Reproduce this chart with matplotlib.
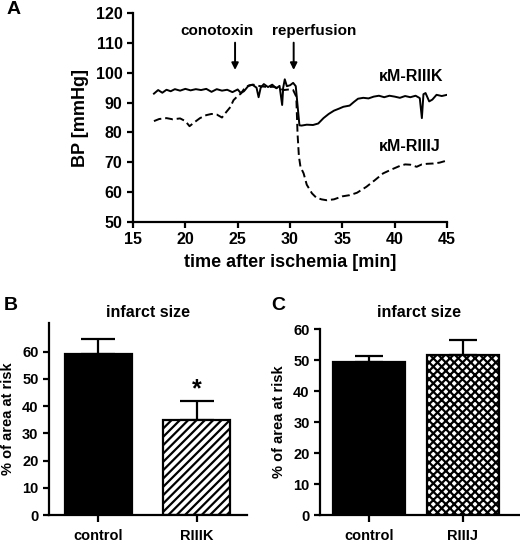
import matplotlib
matplotlib.use("Agg")
import matplotlib.pyplot as plt

plt.rcParams['font.family'] = ['Liberation Sans', 'DejaVu Sans']
plt.rcParams['font.weight'] = 'bold'
plt.rcParams['axes.labelweight'] = 'bold'
plt.rcParams['hatch.linewidth'] = 1.6

# panel A: blood pressure traces (min, mmHg)
t_riiik = [17.0, 17.4, 17.8, 18.2, 18.6, 19.0, 19.5, 20.0, 20.5, 21.0, 21.5, 22.0, 22.5,
           23.0, 23.5, 24.0, 24.5, 25.0, 25.3, 25.6, 26.0, 26.4, 26.8, 27.0, 27.2, 27.5,
           27.9, 28.3, 28.7, 29.0, 29.25, 29.35, 29.5, 29.7, 30.0, 30.3, 30.55, 30.75,
           30.9, 31.1, 31.6, 32.2, 32.7, 33.2, 33.7, 34.2, 34.7, 35.1, 35.7, 36.1, 36.5,
           37.0, 37.5, 38.0, 38.5, 39.0, 39.5, 40.0, 40.5, 41.0, 41.5, 42.0, 42.4, 42.6,
           42.75, 42.95, 43.3, 43.6, 44.0, 44.5, 45.0]
bp_riiik = [93.0, 94.2, 93.3, 94.3, 93.8, 94.5, 94.0, 94.6, 94.1, 94.5, 94.2, 94.6, 93.6,
            94.5, 94.0, 94.3, 93.5, 94.4, 93.2, 93.8, 95.5, 96.0, 95.0, 91.8, 95.0, 96.2,
            95.2, 96.0, 94.8, 95.6, 89.2, 95.0, 97.8, 95.5, 95.8, 96.6, 95.5, 88.0, 82.4,
            82.3, 82.6, 82.5, 83.0, 84.8, 86.2, 87.3, 88.0, 88.6, 89.0, 90.2, 91.3, 91.6,
            91.4, 92.0, 92.3, 91.8, 92.3, 92.0, 91.6, 92.2, 91.8, 92.3, 91.5, 84.8,
            92.8, 93.2, 90.4, 91.0, 92.6, 92.2, 92.6]

t_riiij = [17.0, 17.5, 18.2, 18.8, 19.5, 20.0, 20.4, 20.9, 21.4, 22.0, 22.5, 23.0, 23.5,
           23.9, 24.3, 24.6, 25.0, 25.3, 25.7, 26.1, 26.5, 27.0, 27.4, 27.9, 28.4, 28.9,
           29.4, 29.9, 30.3, 30.6, 30.72, 30.85, 31.0, 31.3, 31.6, 32.1, 32.5, 33.0, 33.5,
           34.2, 35.0, 35.7, 36.4, 37.3, 38.1, 38.9, 39.7, 40.5, 41.0, 41.5, 42.1, 42.6,
           43.1, 43.7, 44.3, 45.0]
bp_riiij = [83.8, 84.5, 84.8, 84.4, 84.7, 83.8, 82.1, 83.5, 84.8, 85.8, 86.2, 86.0, 85.0,
            86.8, 88.5, 90.8, 92.2, 93.0, 95.0, 95.8, 96.0, 95.6, 95.4, 95.2, 95.3, 94.8,
            94.2, 94.4, 94.2, 92.0, 79.6, 72.0, 68.5, 66.3, 62.5, 59.6, 58.2, 57.6, 57.3,
            57.6, 58.6, 59.0, 59.8, 61.8, 64.0, 66.3, 67.6, 68.8, 69.3, 69.2, 68.5, 69.3,
            69.5, 69.6, 69.9, 70.6]

# panels B and C: infarct size (% of area at risk)
groups_b = ['control', 'RIIIK']
mean_b = [59.0, 34.7]
sem_b = [5.8, 7.2]

groups_c = ['control', 'RIIIJ']
mean_c = [49.3, 51.5]
sem_c = [2.0, 5.0]

fig = plt.figure(figsize=(5.2, 5.47), dpi=100)


def style_axes(ax, size, lw=1.6):
    for side in ['top', 'right']:
        ax.spines[side].set_visible(False)
    for side in ['left', 'bottom']:
        ax.spines[side].set_linewidth(lw)
    ax.tick_params(direction='out', width=lw, length=4, labelsize=size)
    for lab in ax.get_xticklabels() + ax.get_yticklabels():
        lab.set_fontweight('bold')


# ---- panel A ----
axA = fig.add_axes([0.2558, 0.5941, 0.6038, 0.3821])
axA.plot(t_riiik, bp_riiik, color='black', lw=1.4)
axA.plot(t_riiij, bp_riiij, color='black', lw=1.4, dashes=(4, 2))
axA.set_xlim(15, 45)
axA.set_ylim(50, 120)
axA.set_xticks(range(15, 46, 5))
axA.set_yticks(range(50, 121, 10))
style_axes(axA, 11.5)
axA.set_xlabel('time after ischemia [min]', fontsize=13, labelpad=5)
axA.set_ylabel('BP [mmHg]', fontsize=13, labelpad=5)

for xa in [24.75, 30.35]:
    axA.annotate('', xy=(xa, 100.0), xytext=(xa, 111.0),
                 arrowprops=dict(arrowstyle='-|>', color='black', lw=1.4,
                                 mutation_scale=10))
axA.text(23.0, 114.0, 'conotoxin', ha='center', va='center', fontsize=11)
axA.text(32.3, 114.0, 'reperfusion', ha='center', va='center', fontsize=11)
axA.text(44.7, 98.6, 'κM-RIIIK', ha='right', va='center', fontsize=11.5)
axA.text(44.4, 75.2, 'κM-RIIIJ', ha='right', va='center', fontsize=11.5)
fig.text(0.012, 0.982, 'A', fontsize=14, ha='left', va='center')


# ---- panels B and C ----
def bar_panel(rect, groups, means, sems, hatch, ylim, xlim, width, capsize):
    ax = fig.add_axes(rect)
    x = list(range(len(groups)))
    ax.bar(x, means, width=width, color=['black', 'white'], edgecolor='black',
           linewidth=1.6, hatch=['', hatch], zorder=2)
    ax.errorbar(x, means, yerr=[[0] * len(sems), sems], fmt='none', ecolor='black',
                elinewidth=1.6, capsize=capsize, capthick=1.6, zorder=1)
    ax.set_xlim(*xlim)
    ax.set_ylim(*ylim)
    ax.set_yticks(range(0, 61, 10))
    ax.set_xticks(x)
    ax.set_xticklabels(groups)
    style_axes(ax, 10.5)
    ax.tick_params(axis='x', length=5, pad=5)
    ax.set_ylabel('% of area at risk', fontsize=10.5, labelpad=5)
    return ax


axB = bar_panel([0.0942, 0.0585, 0.3808, 0.351], groups_b, mean_b, sem_b, '////',
                (0, 70.5), (-0.505, 1.515), 0.68, 12)
axB.text(1, 46, '*', ha='center', va='center', fontsize=18)
fig.text(0.285, 0.429, 'infarct size', ha='center', va='center', fontsize=11.5)
fig.text(0.008, 0.442, 'B', fontsize=14, ha='left', va='center')

axC = bar_panel([0.6154, 0.0585, 0.3846, 0.340], groups_c, mean_c, sem_c, 'xxxx',
                (0, 60), (-0.52, 1.606), 0.77, 10)
fig.text(0.806, 0.429, 'infarct size', ha='center', va='center', fontsize=11.5)
fig.text(0.521, 0.442, 'C', fontsize=14, ha='left', va='center')

fig.savefig('out.png', dpi=100)
